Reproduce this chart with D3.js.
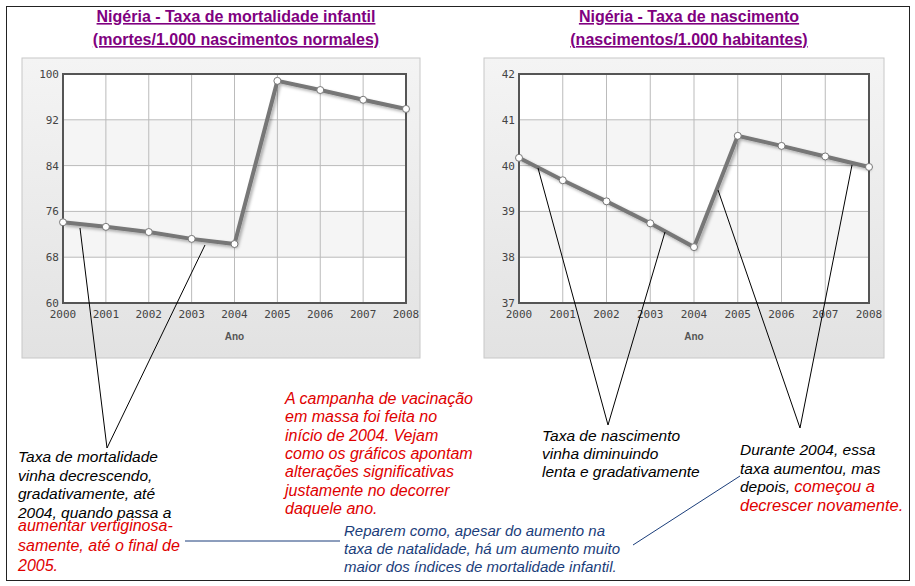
<!DOCTYPE html>
<html><head><meta charset="utf-8">
<script src="https://cdn.jsdelivr.net/npm/d3@7"></script>
<style>body{margin:0;background:#fff}svg{font-family:Arial,"Liberation Sans",sans-serif}</style>
</head><body><svg id="c" width="915" height="586"></svg>
<script>
const years = [2000,2001,2002,2003,2004,2005,2006,2007,2008];
const mortality = [74.1,73.3,72.4,71.2,70.3,98.8,97.2,95.5,93.9];
const births = [40.17,39.68,39.22,38.74,38.22,40.65,40.43,40.2,39.97];
const mortTicks = [60,68,76,84,92,100];
const birthTicks = [37,38,39,40,41,42];

const svg = d3.select("#c");
const defs = svg.append("defs");
const g1 = defs.append("linearGradient").attr("id","panel").attr("x1",0).attr("y1",0).attr("x2",0).attr("y2",1);
g1.append("stop").attr("offset","0").attr("stop-color","#f4f4f4");
g1.append("stop").attr("offset","1").attr("stop-color","#e2e2e2");
defs.append("filter").attr("id","sh").append("feDropShadow")
  .attr("dx",2).attr("dy",2).attr("stdDeviation",1.5).attr("flood-color","#000").attr("flood-opacity",0.3);

svg.append("rect").attr("x",6.5).attr("y",6.5).attr("width",903).attr("height",574)
  .attr("fill","none").attr("stroke","#222");

function chart(cfg){
  svg.append("rect").attr("x",cfg.px).attr("y",58).attr("width",cfg.pw).attr("height",300)
    .attr("fill","url(#panel)").attr("stroke","#c8c8c8");
  const x = d3.scaleLinear().domain([2000,2008]).range([cfg.x0,cfg.x1]);
  const y = d3.scaleLinear().domain(cfg.dom).range([303,74]);
  const g = svg.append("g");
  for(let i=0;i<cfg.ticks.length-1;i++){
    g.append("rect").attr("x",cfg.x0).attr("y",y(cfg.ticks[i+1])).attr("width",cfg.x1-cfg.x0)
      .attr("height",y(cfg.ticks[i])-y(cfg.ticks[i+1])).attr("fill",i%2? "#f5f5f5":"#fff");
  }
  g.selectAll(".vg").data(years).join("line").attr("x1",d=>x(d)).attr("x2",d=>x(d))
    .attr("y1",74).attr("y2",303).attr("stroke","#bbb");
  g.selectAll(".hg").data(cfg.ticks).join("line").attr("x1",cfg.x0).attr("x2",cfg.x1)
    .attr("y1",d=>y(d)).attr("y2",d=>y(d)).attr("stroke","#bbb");
  g.append("rect").attr("x",cfg.x0).attr("y",74).attr("width",cfg.x1-cfg.x0).attr("height",229)
    .attr("fill","none").attr("stroke","#555").attr("stroke-width",2);
  g.selectAll(".yl").data(cfg.ticks).join("text").attr("x",cfg.x0-4).attr("y",d=>y(d)+4)
    .attr("text-anchor","end").attr("font-family","DejaVu Sans Mono").attr("font-size",11).attr("fill","#444").text(d=>d);
  g.selectAll(".xl").data(years).join("text").attr("x",d=>x(d)).attr("y",318)
    .attr("text-anchor","middle").attr("font-family","DejaVu Sans Mono").attr("font-size",11).attr("fill","#444").text(d=>d);
  g.append("text").attr("x",(cfg.x0+cfg.x1)/2).attr("y",340).attr("text-anchor","middle")
    .attr("font-size",10).attr("font-weight","bold").attr("fill","#555").text("Ano");
  const line = d3.line().x((d,i)=>x(years[i])).y(d=>y(d));
  g.append("path").datum(cfg.data).attr("d",line).attr("fill","none").attr("stroke","#777")
    .attr("stroke-width",4).attr("filter","url(#sh)");
  g.selectAll(".pt").data(cfg.data).join("circle").attr("cx",(d,i)=>x(years[i])).attr("cy",d=>y(d))
    .attr("r",3.5).attr("fill","#fff").attr("stroke","#777");
  cfg.title.forEach((t,i)=>{
    svg.append("text").attr("x",cfg.tx).attr("y",22+i*23).attr("text-anchor","middle")
      .attr("font-size",16).attr("font-weight","bold").attr("fill","#800080")
      .attr("text-decoration","underline").text(t);
  });
}
chart({px:22,pw:398,x0:63,x1:406,dom:[60,100],ticks:mortTicks,data:mortality,tx:236,
  title:["Nigéria - Taxa de mortalidade infantil","(mortes/1.000 nascimentos normales)"]});
chart({px:484,pw:400,x0:519,x1:869,dom:[37,42],ticks:birthTicks,data:births,tx:689,
  title:["Nigéria - Taxa de nascimento","(nascimentos/1.000 habitantes)"]});

const ptr = [[80,228,107,448],[205,245,107,448],[538,168,608,425],[665,232,608,425],[718,190,800,428],[852,165,800,428]];
svg.selectAll(".ptr").data(ptr).join("line").attr("x1",d=>d[0]).attr("y1",d=>d[1]).attr("x2",d=>d[2]).attr("y2",d=>d[3])
  .attr("stroke","#000").attr("stroke-width",1);
svg.append("line").attr("x1",185).attr("y1",541).attr("x2",340).attr("y2",541).attr("stroke","#1a3d7a");
svg.append("line").attr("x1",633).attr("y1",545).attr("x2",740).attr("y2",476).attr("stroke","#1a3d7a");

function block(x,y,lines,size,lh){
  const t = svg.append("text").attr("font-style","italic").attr("font-size",size);
  lines.forEach((l,i)=>{
    const ts = t.append("tspan").attr("x",x).attr("y",y+i*lh);
    l.forEach(p=>ts.append("tspan").attr("fill",p[1]).attr("font-size",p[2]||null).text(p[0]));
  });
}
const K="#000",R="#e00000",B="#1a3d7a";
block(18,462,[[["Taxa de mortalidade",K]],[["vinha decrescendo,",K]],[["gradativamente, até",K]],[["2004, quando passa a",K]]],15.5,18.5);
block(18,531,[[["aumentar vertiginosa-",R]],[["samente, até o final de",R]],[["2005.",R]]],16,20);
block(285,404,[[["A campanha de vacinação",R]],[["em massa foi feita no",R]],[["início de 2004. Vejam",R]],[["como os gráficos apontam",R]],[["alterações significativas",R]],[["justamente no decorrer",R]],[["daquele ano.",R]]],16,18.3);
block(344,536,[[["Reparem como, apesar do aumento na",B]],[["taxa de natalidade, há um aumento muito",B]],[["maior dos índices de mortalidade infantil.",B]]],15,18);
block(542,441,[[["Taxa de nascimento",K]],[["vinha diminuindo",K]],[["lenta e gradativamente",K]]],15.5,18);
block(740,455,[[["Durante 2004, essa",K]],[["taxa aumentou, mas",K]],[["depois, ",K],["começou a",R,16.5]],[["decrescer novamente.",R,16.5]]],15.5,18.5);
</script></body></html>
